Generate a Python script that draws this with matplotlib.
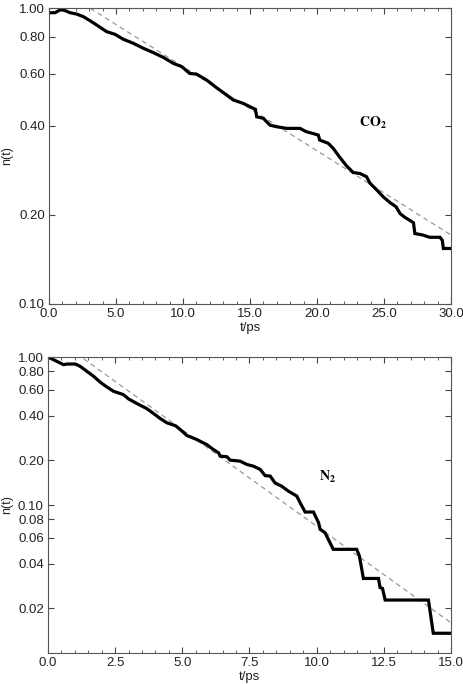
import numpy as np
import matplotlib.pyplot as plt
from matplotlib.ticker import FixedLocator, MultipleLocator, FormatStrFormatter, NullLocator

plt.rcParams['font.family'] = ['Liberation Sans', 'DejaVu Sans']
plt.rcParams['mathtext.fontset'] = 'stix'

# CO2 survival curve n(t)
t_co2 = [0.0, 0.45, 0.82, 1.07, 1.57, 2.06, 2.56, 3.06, 3.56, 4.30, 4.92, 5.55,
         6.29, 7.04, 7.78, 8.53, 9.28, 9.90, 10.5, 11.0, 11.76, 12.5, 13.26, 13.75,
         14.5, 15.25, 15.4, 15.5, 15.99, 16.49, 16.99, 17.74, 18.73, 19.2, 19.85,
         20.1, 20.2, 20.84, 21.2, 21.7, 22.2, 22.7, 23.2, 23.7, 23.95, 24.45, 24.95,
         25.45, 25.9, 26.2, 26.57, 27.06, 27.2, 27.3, 27.9, 28.4, 29.18, 29.35,
         29.43, 30.0]
n_co2 = [0.964, 0.964, 0.985, 0.985, 0.964, 0.954, 0.935, 0.906, 0.876, 0.832, 0.815,
         0.784, 0.760, 0.731, 0.707, 0.681, 0.650, 0.634, 0.601, 0.598, 0.571, 0.538,
         0.508, 0.489, 0.476, 0.458, 0.455, 0.429, 0.424, 0.402, 0.397, 0.392, 0.392,
         0.382, 0.375, 0.372, 0.358, 0.349, 0.336, 0.313, 0.293, 0.278, 0.276, 0.269,
         0.256, 0.243, 0.230, 0.220, 0.213, 0.202, 0.196, 0.190, 0.188, 0.173, 0.171,
         0.168, 0.168, 0.164, 0.154, 0.154]
# exponential fit (straight in log scale)
t_co2_fit = [0.0, 30.0]
n_co2_fit = [1.22, 0.171]

# N2 survival curve
t_n2 = [0.0, 0.33, 0.58, 0.71, 1.02, 1.2, 1.45, 1.70, 1.95, 2.19, 2.44, 2.81, 3.0,
        3.31, 3.68, 3.93, 4.18, 4.43, 4.74, 4.92, 5.17, 5.54, 5.91, 6.16, 6.35,
        6.41, 6.66, 6.78, 7.15, 7.40, 7.65, 7.9, 8.08, 8.27, 8.45, 8.70, 8.95,
        9.26, 9.38, 9.57, 9.88, 10.07, 10.13, 10.31, 10.62, 11.49, 11.59, 11.74,
        12.30, 12.36, 12.45, 12.55, 14.16, 14.34, 15.0]
n_n2 = [1.0, 0.935, 0.888, 0.897, 0.897, 0.865, 0.80, 0.741, 0.675, 0.628, 0.587,
        0.557, 0.521, 0.485, 0.448, 0.415, 0.384, 0.359, 0.344, 0.324, 0.295, 0.277,
        0.256, 0.237, 0.225, 0.214, 0.212, 0.201, 0.198, 0.188, 0.183, 0.174, 0.158,
        0.157, 0.141, 0.134, 0.124, 0.115, 0.104, 0.0897, 0.0897, 0.076, 0.0685,
        0.065, 0.0502, 0.0502, 0.0453, 0.0319, 0.0319, 0.0277, 0.0273, 0.0228,
        0.0228, 0.0136, 0.0136]
t_n2_fit = [0.0, 15.0]
n_n2_fit = [1.45, 0.016]

co2_yticks = [0.10, 0.20, 0.40, 0.60, 0.80, 1.00]
n2_yticks = [0.02, 0.04, 0.06, 0.08, 0.10, 0.20, 0.40, 0.60, 0.80, 1.00]

fig = plt.figure(figsize=(4.64, 6.84), dpi=100)
ax1 = fig.add_axes([0.1056, 0.5556, 0.8664, 0.4327])
ax2 = fig.add_axes([0.1034, 0.0453, 0.8686, 0.4327])

def style(ax, xmax, xmaj, xmin, yticks, ylim):
    ax.set_yscale('log')
    ax.set_xlim(0, xmax)
    ax.set_ylim(*ylim)
    ax.xaxis.set_major_locator(MultipleLocator(xmaj))
    ax.xaxis.set_minor_locator(MultipleLocator(xmin))
    ax.xaxis.set_major_formatter(FormatStrFormatter('%.1f'))
    ax.yaxis.set_major_locator(FixedLocator(yticks))
    ax.yaxis.set_minor_locator(NullLocator())
    ax.yaxis.set_major_formatter(FormatStrFormatter('%.2f'))
    ax.tick_params(which='both', direction='in', top=True, right=True,
                   labelsize=9.5, color='#444444', labelcolor='#222222', pad=3)
    ax.tick_params(which='major', length=4, width=0.8)
    ax.tick_params(which='minor', length=2.5, width=0.6)
    for s in ax.spines.values():
        s.set_color('#555555')
        s.set_linewidth(0.8)
    ax.set_xlabel('t/ps', fontsize=9.5, labelpad=1, color='#222222')
    ax.set_ylabel('n(t)', fontsize=9, color='#222222')
    # label's right edge sits about 13 px from the figure edge
    x0 = ax.get_position().x0 * 464
    w = ax.get_position().width * 464
    ax.yaxis.set_label_coords((13 - x0) / w, 0.5)

ax1.plot(t_co2_fit, n_co2_fit, color='#999999', lw=0.9, ls=(0, (4, 3)))
ax1.plot(t_co2, n_co2, color='black', lw=2.3, solid_joinstyle='miter')
style(ax1, 30, 5, 1, co2_yticks, (0.1, 1.0))
ax1.text(24.2, 0.41, r'$\mathbf{CO_2}$', fontsize=10, ha='center', va='center')

ax2.plot(t_n2_fit, n_n2_fit, color='#999999', lw=0.9, ls=(0, (4, 3)))
ax2.plot(t_n2, n_n2, color='black', lw=2.3, solid_joinstyle='miter')
style(ax2, 15, 2.5, 0.5, n2_yticks, (0.01, 1.0))
ax2.text(10.4, 0.155, r'$\mathbf{N_2}$', fontsize=10, ha='center', va='center')

fig.savefig('out.png', dpi=100)
